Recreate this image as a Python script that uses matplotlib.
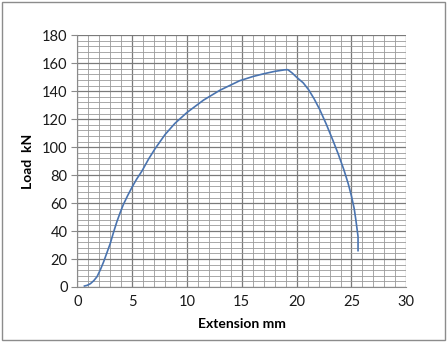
import matplotlib
matplotlib.use("Agg")
import matplotlib.pyplot as plt
from matplotlib.patches import Rectangle
from matplotlib.ticker import MultipleLocator

# Load-extension record of the tensile test
extension_mm = [0.65, 0.9, 1.2, 1.5, 1.8, 2.1, 2.4, 2.7, 3.0, 3.3, 3.6, 3.9,
                4.2, 4.6, 5.0, 5.4, 5.9, 6.5, 7.1, 8.0, 8.9, 10.0, 11.5,
                13.0, 14.8, 16.0, 17.0, 18.0, 18.9, 19.2, 19.6, 20.0, 20.6,
                21.1, 21.6, 22.1, 22.7, 23.3, 23.8, 24.3, 24.7, 25.0, 25.25,
                25.4, 25.5, 25.6, 25.6]
load_kN = [0.7, 1.2, 2.4, 4.5, 7.4, 12.3, 18, 24.5, 31, 39, 46.5, 53,
           59, 65.5, 71.5, 77, 83, 91.5, 99, 109, 117, 124.8, 133.6,
           140.7, 147.5, 150.5, 152.5, 154.2, 155.3, 155.4, 153, 150, 146,
           141, 134.5, 127, 116.5, 105, 95, 84, 74, 65, 56,
           48, 42, 36, 26]

x_ticks = [0, 5, 10, 15, 20, 25, 30]
y_ticks = [0, 20, 40, 60, 80, 100, 120, 140, 160, 180]

plt.rcParams['font.family'] = ['Lato', 'DejaVu Sans']

fig = plt.figure(figsize=(4.47, 3.42), dpi=100)
fig.patch.set_facecolor('white')
fig.patches.append(Rectangle((2 / 447, 2 / 342), 443 / 447, 338 / 342,
                             transform=fig.transFigure, fill=False,
                             edgecolor='#8c8c8c', linewidth=1.0))

ax = fig.add_axes([77.3 / 447, 1 - 287 / 342, (406.3 - 77.3) / 447, (287 - 35.3) / 342])
ax.set_xlim(0, 30)
ax.set_ylim(0, 180)
ax.set_xticks(x_ticks)
ax.set_yticks(y_ticks)
ax.xaxis.set_minor_locator(MultipleLocator(1))
ax.yaxis.set_minor_locator(MultipleLocator(4))

ax.grid(which='major', color='#7a7a7a', linewidth=0.9)
ax.grid(which='minor', color='#9a9a9a', linewidth=0.6)
ax.set_axisbelow(True)

for side in ('top', 'right'):
    ax.spines[side].set_visible(False)
ax.spines['left'].set_color('#8a8a8a')
ax.spines['bottom'].set_color('#8a8a8a')

ax.tick_params(axis='both', which='major', labelsize=10.5, color='#8a8a8a',
               length=4, direction='out', labelcolor='#1a1a1a')
ax.tick_params(axis='both', which='minor', length=0)
ax.tick_params(axis='x', which='major', length=0, pad=6)
ax.tick_params(axis='y', which='major', pad=3)

ax.plot(extension_mm, load_kN, color='#4a74b0', linewidth=1.2)

ax.set_xlabel('Extension mm', fontsize=10, fontweight='bold', labelpad=6)
ax.set_ylabel('Load  kN', fontsize=10, fontweight='bold', labelpad=6)

fig.savefig('out.png', dpi=100)
